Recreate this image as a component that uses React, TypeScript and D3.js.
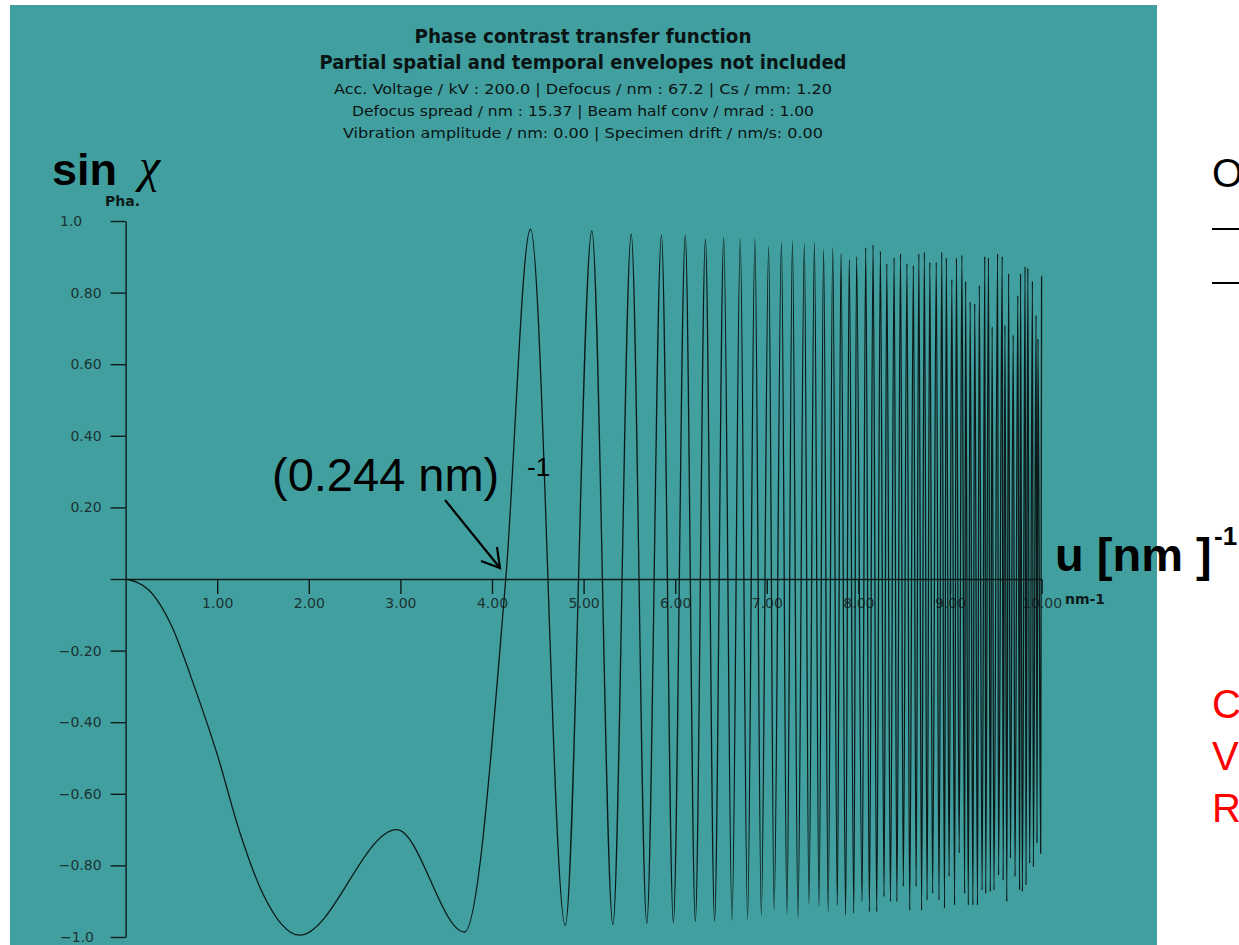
import * as d3 from "d3";
import { useEffect, useRef } from "react";

// axis ticks
const xTicks = [1, 2, 3, 4, 5, 6, 7, 8, 9, 10];
const xTickLabels = ["1.00", "2.00", "3.00", "4.00", "5.00", "6.00", "7.00", "8.00", "9.00", "10.00"];
const yTicks = [-1, -0.8, -0.6, -0.4, -0.2, 0, 0.2, 0.4, 0.6, 0.8, 1];
const yTickLabels = ["−1.0", "−0.80", "−0.60", "−0.40", "−0.20", "", "0.20", "0.40", "0.60", "0.80", "1.0"];

// first lobes, read point by point (u in nm^-1, sin chi)
const startU = [0, 0.25, 0.5, 0.75, 1.0, 1.25, 1.5, 1.9, 2.96, 3.7, 4.15];
const startV = [0, -0.03, -0.13, -0.3, -0.49, -0.71, -0.88, -0.995, -0.7, -0.986, 0];

// maxima of the oscillations
const peakU = [4.42, 5.09, 5.52, 5.85, 6.11, 6.33, 6.53, 6.71,
  6.87, 7.02, 7.16, 7.28, 7.41, 7.52, 7.62, 7.72, 7.81, 7.9, 7.98, 8.08, 8.16, 8.24, 8.31, 8.39,
  8.46, 8.53, 8.6, 8.66, 8.72, 8.78, 8.85, 8.91, 8.96, 9.02, 9.07, 9.13, 9.17, 9.22, 9.27, 9.32,
  9.38, 9.42, 9.46, 9.52, 9.57, 9.6, 9.64, 9.69, 9.74, 9.77, 9.82, 9.85, 9.9, 9.94, 9.96, 10.0];
const peakV = [0.977, 0.972, 0.963, 0.96, 0.96, 0.949, 0.953, 0.949,
  0.949, 0.929, 0.941, 0.944, 0.937, 0.941, 0.921, 0.925, 0.909, 0.893, 0.901, 0.925, 0.933, 0.916, 0.881, 0.897,
  0.909, 0.881, 0.876, 0.909, 0.913, 0.885, 0.885, 0.913, 0.897, 0.837, 0.897, 0.905, 0.832, 0.774, 0.769, 0.82,
  0.901, 0.897, 0.704, 0.909, 0.901, 0.709, 0.853, 0.681, 0.792, 0.853, 0.873, 0.869, 0.832, 0.737, 0.671, 0.846];

// minima of the oscillations
const troughU = [4.8, 5.32, 5.69, 5.98, 6.22, 6.43, 6.62, 6.79,
  6.94, 7.08, 7.22, 7.34, 7.46, 7.57, 7.67, 7.77, 7.86, 7.95, 8.04, 8.12, 8.2, 8.28, 8.35, 8.42,
  8.49, 8.56, 8.63, 8.69, 8.75, 8.81, 8.88, 8.94, 8.99, 9.05, 9.1, 9.16, 9.2, 9.25, 9.3, 9.35,
  9.39, 9.44, 9.48, 9.53, 9.58, 9.62, 9.66, 9.71, 9.76, 9.79, 9.83, 9.87, 9.91, 9.95, 9.99];
const troughV = [-0.967, -0.965, -0.962, -0.96, -0.956, -0.955, -0.952, -0.95,
  -0.939, -0.923, -0.934, -0.946, -0.908, -0.915, -0.929, -0.911, -0.939, -0.934, -0.901, -0.929, -0.929, -0.887, -0.901, -0.901,
  -0.859, -0.925, -0.859, -0.925, -0.897, -0.878, -0.897, -0.92, -0.831, -0.911, -0.766, -0.878, -0.911, -0.911, -0.911, -0.869,
  -0.878, -0.873, -0.869, -0.827, -0.841, -0.901, -0.78, -0.831, -0.869, -0.873, -0.855, -0.794, -0.804, -0.738, -0.766];

const titleLines = [
  "Phase contrast transfer function",
  "Partial spatial and temporal envelopes not included",
  "Acc. Voltage / kV : 200.0 | Defocus / nm : 67.2 | Cs / mm: 1.20",
  "Defocus spread / nm : 15.37 | Beam half conv / mrad : 1.00",
  "Vibration amplitude / nm: 0.00 | Specimen drift / nm/s: 0.00",
];
const titleWidths = [337, 527, 498, 462, 480];

const sideLetters = ["C", "V", "R"];

const W = 1239;
const H = 945;
const teal = "#41a09f";
const ink = "#0d1a1a";
const tickInk = "#1c3333";
const chartFont = "'DejaVu Sans', sans-serif";
const slideFont = "'Liberation Sans', Arial, sans-serif";

const x = d3.scaleLinear().domain([0, 10]).range([125.6, 1041.6]);
const y = d3.scaleLinear().domain([-1, 1]).range([937, 221]);

export default function App() {
  const xAxisRef = useRef<SVGGElement>(null);
  const yAxisRef = useRef<SVGGElement>(null);

  const pts: [number, number][] = [];
  startU.forEach((u, i) => pts.push([u, startV[i]]));
  peakU.forEach((u, i) => pts.push([u, peakV[i]]));
  troughU.forEach((u, i) => pts.push([u, troughV[i]]));
  pts.sort((a, b) => a[0] - b[0]);

  const line = d3
    .line<[number, number]>()
    .x((d) => x(d[0]))
    .y((d) => y(d[1]))
    .curve(d3.curveMonotoneX);

  useEffect(() => {
    const gx = d3.select(xAxisRef.current!);
    gx.selectAll("*").remove();
    gx.call(
      d3
        .axisBottom(x)
        .tickValues(xTicks)
        .tickFormat((d, i) => xTickLabels[i])
        .tickSize(15)
        .tickSizeOuter(0)
        .tickPadding(4)
    );
    gx.attr("font-family", chartFont).attr("font-size", 14);
    gx.select(".domain").attr("stroke", ink).attr("stroke-width", 1.4);
    gx.selectAll(".tick line").attr("stroke", ink).attr("stroke-width", 1.4);
    gx.selectAll(".tick text").attr("fill", tickInk);

    const gy = d3.select(yAxisRef.current!);
    gy.selectAll("*").remove();
    gy.call(
      d3
        .axisLeft(y)
        .tickValues(yTicks)
        .tickFormat((d, i) => yTickLabels[i])
        .tickSize(15)
        .tickSizeOuter(0)
        .tickPadding(9)
    );
    gy.attr("font-family", chartFont).attr("font-size", 14);
    gy.select(".domain").attr("stroke", ink).attr("stroke-width", 1.4);
    gy.selectAll(".tick line").attr("stroke", ink).attr("stroke-width", 1.4);
    gy.selectAll(".tick text").attr("fill", tickInk);
    // the end labels sit left aligned in the original
    gy.selectAll<SVGTextElement, number>(".tick text")
      .filter((d) => Math.abs(d) === 1)
      .attr("text-anchor", "start")
      .attr("x", 60 - x(0));
  }, []);

  return (
    <svg
      width={W}
      height={H}
      style={{ position: "absolute", left: 0, top: 0, background: "#fff" }}
    >
      <rect x={10} y={5} width={1147} height={H - 5} fill={teal} />

      {titleLines.map((t, i) => (
        <text
          key={i}
          x={583}
          y={[43, 69, 94, 116, 138][i]}
          textAnchor="middle"
          fontFamily={chartFont}
          fontWeight={i < 2 ? "bold" : "normal"}
          fontSize={i < 2 ? 19 : 14}
          textLength={titleWidths[i]}
          lengthAdjust="spacingAndGlyphs"
          fill="#0a1414"
        >
          {t}
        </text>
      ))}

      <g ref={xAxisRef} transform={`translate(0,${y(0)})`} />
      <g ref={yAxisRef} transform={`translate(${x(0)},0)`} />

      <path d={line(pts) ?? ""} fill="none" stroke={ink} strokeWidth={1.3} />

      {/* axis names */}
      <text x={52} y={185} fontFamily={slideFont} fontWeight="bold" fontSize={45} fill="#000">
        sin
      </text>
      <text x={139} y={182} fontFamily="'Liberation Serif', serif" fontStyle="italic" fontSize={48} fill="#000">
        χ
      </text>
      <text x={105} y={206} fontFamily={chartFont} fontWeight="bold" fontSize={14} fill={ink}>
        Pha.
      </text>

      <text x={1055} y={571} fontFamily={slideFont} fontWeight="bold" fontSize={47} fill="#000">
        u [nm ]
      </text>
      <text x={1214} y={545} fontFamily={slideFont} fontWeight="bold" fontSize={26} fill="#000">
        -1
      </text>
      <text x={1065} y={604} fontFamily={chartFont} fontWeight="bold" fontSize={14} fill={ink}>
        nm-1
      </text>

      {/* resolution annotation */}
      <text x={272} y={491} fontFamily={slideFont} fontSize={47} fill="#000">
        (0.244 nm)
      </text>
      <text x={527} y={476} fontFamily={slideFont} fontSize={26} fill="#000">
        -1
      </text>
      <path d="M445,500 L500,568" stroke="#000" strokeWidth={2.2} fill="none" />
      <path d="M481,561 L500,568 L497,547" stroke="#000" strokeWidth={2.2} fill="none" />

      {/* slide text cut off at the right */}
      <text x={1212} y={187} fontFamily={slideFont} fontSize={40} fill="#000">
        O
      </text>
      <line x1={1212} x2={W} y1={229} y2={229} stroke="#000" strokeWidth={2} />
      <line x1={1212} x2={W} y1={283} y2={283} stroke="#000" strokeWidth={2} />
      {sideLetters.map((c, i) => (
        <text key={c} x={1212} y={718 + i * 52} fontFamily={slideFont} fontSize={40} fill="#ff0000">
          {c}
        </text>
      ))}
    </svg>
  );
}
